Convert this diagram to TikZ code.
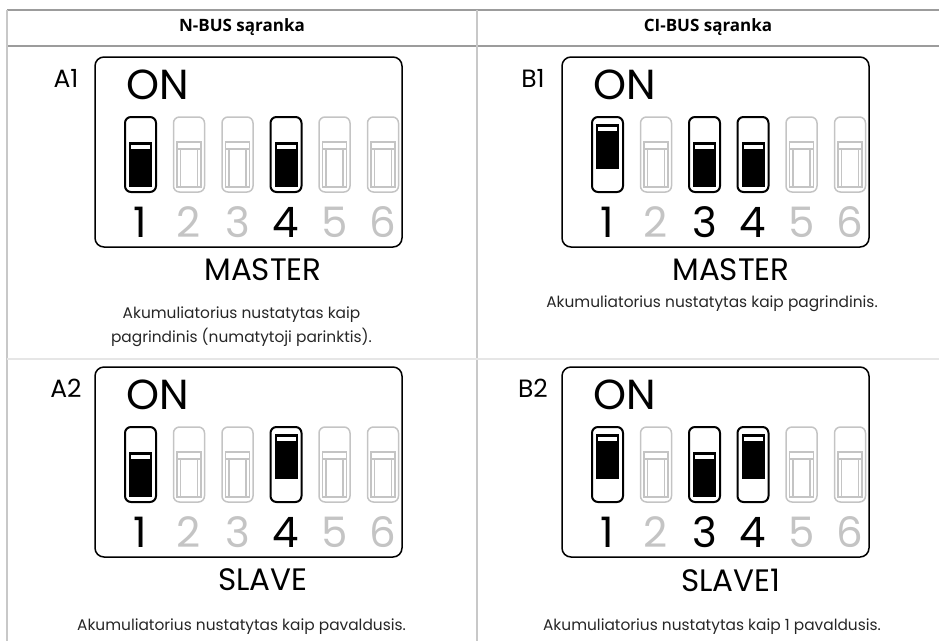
\documentclass[tikz,border=0pt]{standalone}
\usepackage{fontspec}
\setmainfont{Poppins}
\newfontfamily\headfont{Open Sans}
\usetikzlibrary{positioning}
\definecolor{HeadGray}{HTML}{9C9C9C}
\definecolor{RuleGray}{HTML}{C8C8C8}
\definecolor{RowGray}{HTML}{E6E6E6}
\definecolor{OffGray}{HTML}{C4C4C4}

\newcommand{\dipPanel}[4]{%
  \begin{scope}[shift={(#2,#3)}]
    \draw[panelbox] (0,0) rectangle (307,190);
    \node[tag] (tag-#1) at (-29,21) {#1};
    \node[onlabel] (on-#1) at (31,28) {ON};
    \foreach \s [count=\i] in {#4} {
      \pgfmathsetmacro\sx{30+(\i-1)*48.5}
      \ifnum\s=0
        \draw[switchoff] (\sx,60) rectangle ++(31,75);
        \draw[OffGray,line width=1.3pt] (\sx+3.5,85) rectangle (\sx+27.5,130)
          (\sx+3.5,92) -- (\sx+27.5,92) (\sx+7,92) -- (\sx+7,130) (\sx+24,92) -- (\sx+24,130);
        \node[digit,OffGray] (num-#1-\i) at (\sx+15.5,165) {\i};
      \else
        \draw[switchon] (\sx,60) rectangle ++(31,75);
        \pgfmathsetmacro\by{\s==1 ? 85 : 66.5}
        \fill (\sx+4,\by) rectangle ++(23,45);
        \fill[white] (\sx+6,\by+3) rectangle ++(19,4);
        \node[digit] (num-#1-\i) at (\sx+15.5,165) {\i};
      \fi
    }
  \end{scope}}

\begin{document}
\begin{tikzpicture}[x=1pt,y=-1pt,every node/.style={inner sep=0pt},
  panelbox/.style={line width=1.5pt,rounded corners=9pt},
  switchon/.style={line width=2pt,rounded corners=6pt},
  switchoff/.style={OffGray,line width=1.5pt,rounded corners=6pt},
  tag/.style={font=\fontsize{25}{25}\selectfont},
  onlabel/.style={anchor=west,font=\fontsize{42}{42}\selectfont},
  digit/.style={font=\fontsize{42}{42}\selectfont},
  mode/.style={font=\fontsize{31}{31}\selectfont},
  desc/.style={anchor=base,align=center,text=black!85,font=\fontsize{15.4}{24}\selectfont},
  head/.style={font=\headfont\bfseries\fontsize{17}{17}\selectfont}]
  \useasboundingbox (0,0) rectangle (939,641);
  \draw[HeadGray,line width=1.5pt] (7,10) -- (939,10) (7,46) -- (939,46);
  \draw[RuleGray,line width=1.2pt] (7,10) -- (7,641) (477,10) -- (477,641);
  \draw[RowGray,line width=2pt] (7,359) -- (939,359);
  \node[head] (head-n) at (242,27) {N-BUS sąranka};
  \node[head] (head-ci) at (708,27) {CI-BUS sąranka};

  \dipPanel{A1}{95}{57}{1,0,0,1,0,0}
  \dipPanel{B1}{562}{57}{2,0,1,1,0,0}
  \dipPanel{A2}{95}{367}{1,0,0,2,0,0}
  \dipPanel{B2}{562}{367}{2,0,1,2,0,0}

  \node[mode] (mode-a1) at (263,270) {MASTER};
  \node[mode] (mode-b1) at (731,270) {MASTER};
  \node[mode] (mode-a2) at (263,580) {SLAVE};
  \node[mode] (mode-b2) at (731,580) {SLAVE1};
  \node[desc] (desc-a1) at (241.5,342) {Akumuliatorius nustatytas kaip\\pagrindinis (numatytoji parinktis).};
  \node[desc] (desc-b1) at (712,307) {Akumuliatorius nustatytas kaip pagrindinis.};
  \node[desc] (desc-a2) at (241.5,630) {Akumuliatorius nustatytas kaip pavaldusis.};
  \node[desc] (desc-b2) at (712,630) {Akumuliatorius nustatytas kaip 1 pavaldusis.};
\end{tikzpicture}
\end{document}
